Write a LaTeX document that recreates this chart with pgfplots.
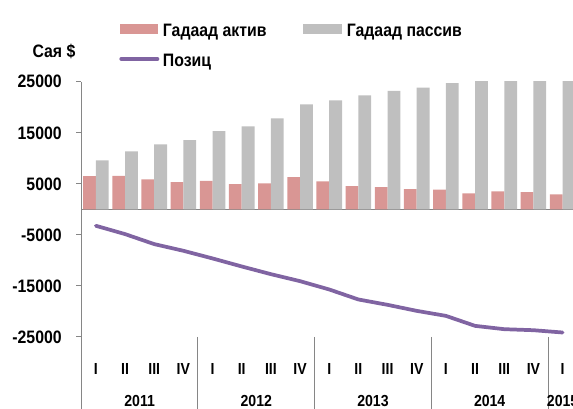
\documentclass[border=0pt]{standalone}
\usepackage{pgfplots}
\pgfplotsset{compat=1.18}
\usepackage{fontspec}
\setmainfont{Liberation Sans}
\newfontfamily\nf{Liberation Sans}[FakeStretch=0.88]
\definecolor{aktiv}{RGB}{217,150,148}
\definecolor{passiv}{RGB}{191,191,191}
\definecolor{pozic}{RGB}{128,100,162}
\definecolor{axgray}{RGB}{134,134,134}
\begin{document}
\begin{tikzpicture}
\useasboundingbox (0,0) rectangle (429.75pt,306.75pt);
\begin{axis}[
  at={(60.975pt,54pt)}, anchor=south west,
  scale only axis, width=371.9pt, height=191.4pt,
  xmin=-0.5, xmax=16.5, ymin=-25000, ymax=25000,
  scaled y ticks=false,
  axis lines*=left,
  x axis line style={draw=none},
  y axis line style={axgray, line width=0.75pt},
  tick align=outside, major tick length=3.75pt,
  ytick={-25000,-15000,-5000,5000,15000,25000},
  yticklabels={-25000,-15000,-5000,5000,15000,25000},
  ytick style={axgray, line width=0.75pt},
  yticklabel style={font=\nf\bfseries\fontsize{13.5pt}{15pt}\selectfont, inner sep=0pt, xshift=-10.75pt},
  xtick={0,...,16},
  xticklabels={I,II,III,IV,I,II,III,IV,I,II,III,IV,I,II,III,IV,I},
  xtick style={draw=none},
  xticklabel style={font=\nf\bfseries\fontsize{12pt}{14pt}\selectfont, anchor=base, inner sep=0pt, yshift=-24.2pt},
  extra y ticks={0}, extra y tick labels={},
  extra y tick style={grid=major, major grid style={axgray, line width=1.1pt}, major tick length=0pt},
]
\addplot[ybar, bar width=9.6pt, bar shift=-4.8pt, fill=aktiv, draw=none] coordinates {
(0,6530) (1,6590) (2,5880) (3,5350) (4,5610) (5,4960) (6,5100) (7,6330) (8,5490)
(9,4570) (10,4370) (11,3980) (12,3850) (13,3140) (14,3530) (15,3390) (16,2940)};
\addplot[ybar, bar width=9.6pt, bar shift=4.8pt, fill=passiv, draw=none] coordinates {
(0,9600) (1,11370) (2,12740) (3,13590) (4,15350) (5,16270) (6,17840) (7,20590) (8,21370)
(9,22350) (10,23200) (11,23840) (12,24760) (13,25600) (14,26000) (15,26300) (16,26600)};
\addplot[pozic, line width=2.8pt, line join=round, line cap=round, mark=none] coordinates {
(0,-3210) (1,-4840) (2,-6800) (3,-8110) (4,-9610) (5,-11180) (6,-12690) (7,-14060) (8,-15690)
(9,-17650) (10,-18700) (11,-19880) (12,-20860) (13,-22820) (14,-23470) (15,-23670) (16,-24120)};
\coordinate (s0) at (axis cs:-0.5,-25000);
\coordinate (s1) at (axis cs:3.5,-25000);
\coordinate (s2) at (axis cs:7.5,-25000);
\coordinate (s3) at (axis cs:11.5,-25000);
\coordinate (s4) at (axis cs:15.5,-25000);
\coordinate (y1) at (axis cs:1.5,-25000);
\coordinate (y2) at (axis cs:5.5,-25000);
\coordinate (y3) at (axis cs:9.5,-25000);
\coordinate (y4) at (axis cs:13.5,-25000);
\coordinate (y5) at (axis cs:16,-25000);
\end{axis}
\foreach \s in {s0,s1,s2,s3,s4} \draw[axgray, line width=0.75pt] (\s) -- ++(0pt,-54pt);
\foreach \y/\t in {y1/2011,y2/2012,y3/2013,y4/2014,y5/2015}
  \node[anchor=base, inner sep=0pt, font=\nf\bfseries\fontsize{12pt}{14pt}\selectfont] at ([yshift=-52.3pt]\y) {\t};
% y axis title
\node[anchor=base, inner sep=0pt, font=\nf\bfseries\fontsize{13.5pt}{15pt}\selectfont] at (40.5pt,263.5pt) {Сая \$};
% legend
\fill[aktiv] (90pt,281.25pt) rectangle (118.7pt,288.5pt);
\node[anchor=base west, inner sep=0pt, font=\nf\bfseries\fontsize{13.5pt}{15pt}\selectfont] at (122pt,279.4pt) {Гадаад актив};
\fill[passiv] (227.5pt,281.25pt) rectangle (256.3pt,288.5pt);
\node[anchor=base west, inner sep=0pt, font=\nf\bfseries\fontsize{13.5pt}{15pt}\selectfont] at (259.9pt,279.4pt) {Гадаад пассив};
\draw[pozic, line width=3pt, line cap=round] (91pt,262.5pt) -- (118pt,262.5pt);
\node[anchor=base west, inner sep=0pt, font=\nf\bfseries\fontsize{13.5pt}{15pt}\selectfont] at (122pt,257.2pt) {Позиц};
\end{tikzpicture}
\end{document}
